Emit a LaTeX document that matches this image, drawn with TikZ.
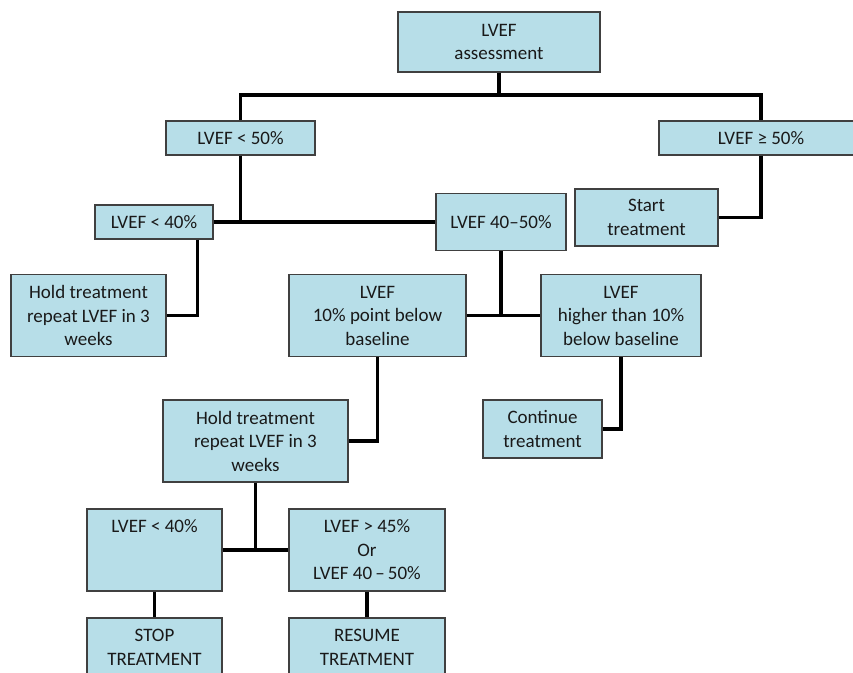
\documentclass[tikz,border=0pt]{standalone}
\usepackage{fontspec}
\setmainfont{Carlito}
\definecolor{boxfill}{HTML}{B7DEE8}
\definecolor{boxline}{HTML}{404040}
\begin{document}
\begin{tikzpicture}[x=1pt, y=-1pt,
	box/.style={draw=boxline, fill=boxfill, line width=1.2pt, inner sep=2pt, align=center,
		text=black!90, font=\fontsize{19pt}{23.5pt}\selectfont},
	link/.style={draw=black, line width=3.2pt}]
	\useasboundingbox (0,0) rectangle (853,672);
	
	% LEVEL 0-1
	\node[box, minimum width=202pt, minimum height=60pt] (assess) at (499,42) {LVEF\\assessment};
	\node[box, minimum width=149pt, minimum height=34pt] (lt50) at (240.5,138) {LVEF < 50\%};
	\node[box, minimum width=204pt, minimum height=34pt] (ge50) at (761,138) {LVEF ≥ 50\%};
	
	% LEVEL 2
	\node[box, minimum width=118pt, minimum height=34pt] (lt40) at (154,222) {LVEF < 40\%};
	\node[box, minimum width=130pt, minimum height=57pt] (mid) at (501,222) {LVEF 40--50\%};
	\node[box, minimum width=143pt, minimum height=57pt] (start) at (646.5,217.5) {Start\\treatment};
	
	% LEVEL 3
	\node[box, minimum width=155pt, minimum height=82pt] (hold1) at (88.5,315.5) {Hold treatment\\repeat LVEF in 3\\weeks};
	\node[box, minimum width=177pt, minimum height=82pt] (below) at (377.5,315.5) {LVEF\\10\% point below\\baseline};
	\node[box, minimum width=160pt, minimum height=82pt] (higher) at (621,315.5) {LVEF\\higher than 10\%\\below baseline};
	
	% LEVEL 4
	\node[box, minimum width=185pt, minimum height=82pt] (hold2) at (255.5,441) {Hold treatment\\repeat LVEF in 3\\weeks};
	\node[box, minimum width=119pt, minimum height=58pt] (cont) at (542.5,429) {Continue\\treatment};
	
	% LEVEL 5-6
	\node[box, minimum width=135pt, minimum height=82pt] (low40) at (154.5,550) {LVEF < 40\%\\\mbox{}\\\mbox{}};
	\node[box, minimum width=156pt, minimum height=82pt] (gt45) at (367,550) {LVEF > 45\%\\Or\\LVEF 40\,--\,50\%};
	\node[box, minimum width=135pt, minimum height=82pt] (stop) at (154.5,659) {STOP\\TREATMENT\\\mbox{}};
	\node[box, minimum width=156pt, minimum height=82pt] (resume) at (367,659) {RESUME\\TREATMENT\\\mbox{}};
	
	% DRAW TREE
	\coordinate (split) at (499,95);
	\path[link] (assess.south) -- (split);
	\path[link] (lt50.north) |- (split) -| (ge50.north);
	\path[link] (ge50.south) |- (start.east);
	\path[link] (lt40.east) -- (mid.west);
	\path[link] (lt50.south) -- (lt50.south |- lt40.east);
	\path[link] ([xshift=-16pt]lt40.south east) |- (hold1.east);
	\path[link] (below.east) -- (higher.west);
	\path[link] (mid.south) -- (mid.south |- below.east);
	\path[link] (below.south) |- (hold2.east);
	\path[link] (higher.south) |- (cont.east);
	\path[link] (low40.east) -- (gt45.west);
	\path[link] (hold2.south) -- (hold2.south |- low40.east);
	\path[link] (low40.south) -- (stop.north);
	\path[link] (gt45.south) -- (resume.north);
\end{tikzpicture}
\end{document}
